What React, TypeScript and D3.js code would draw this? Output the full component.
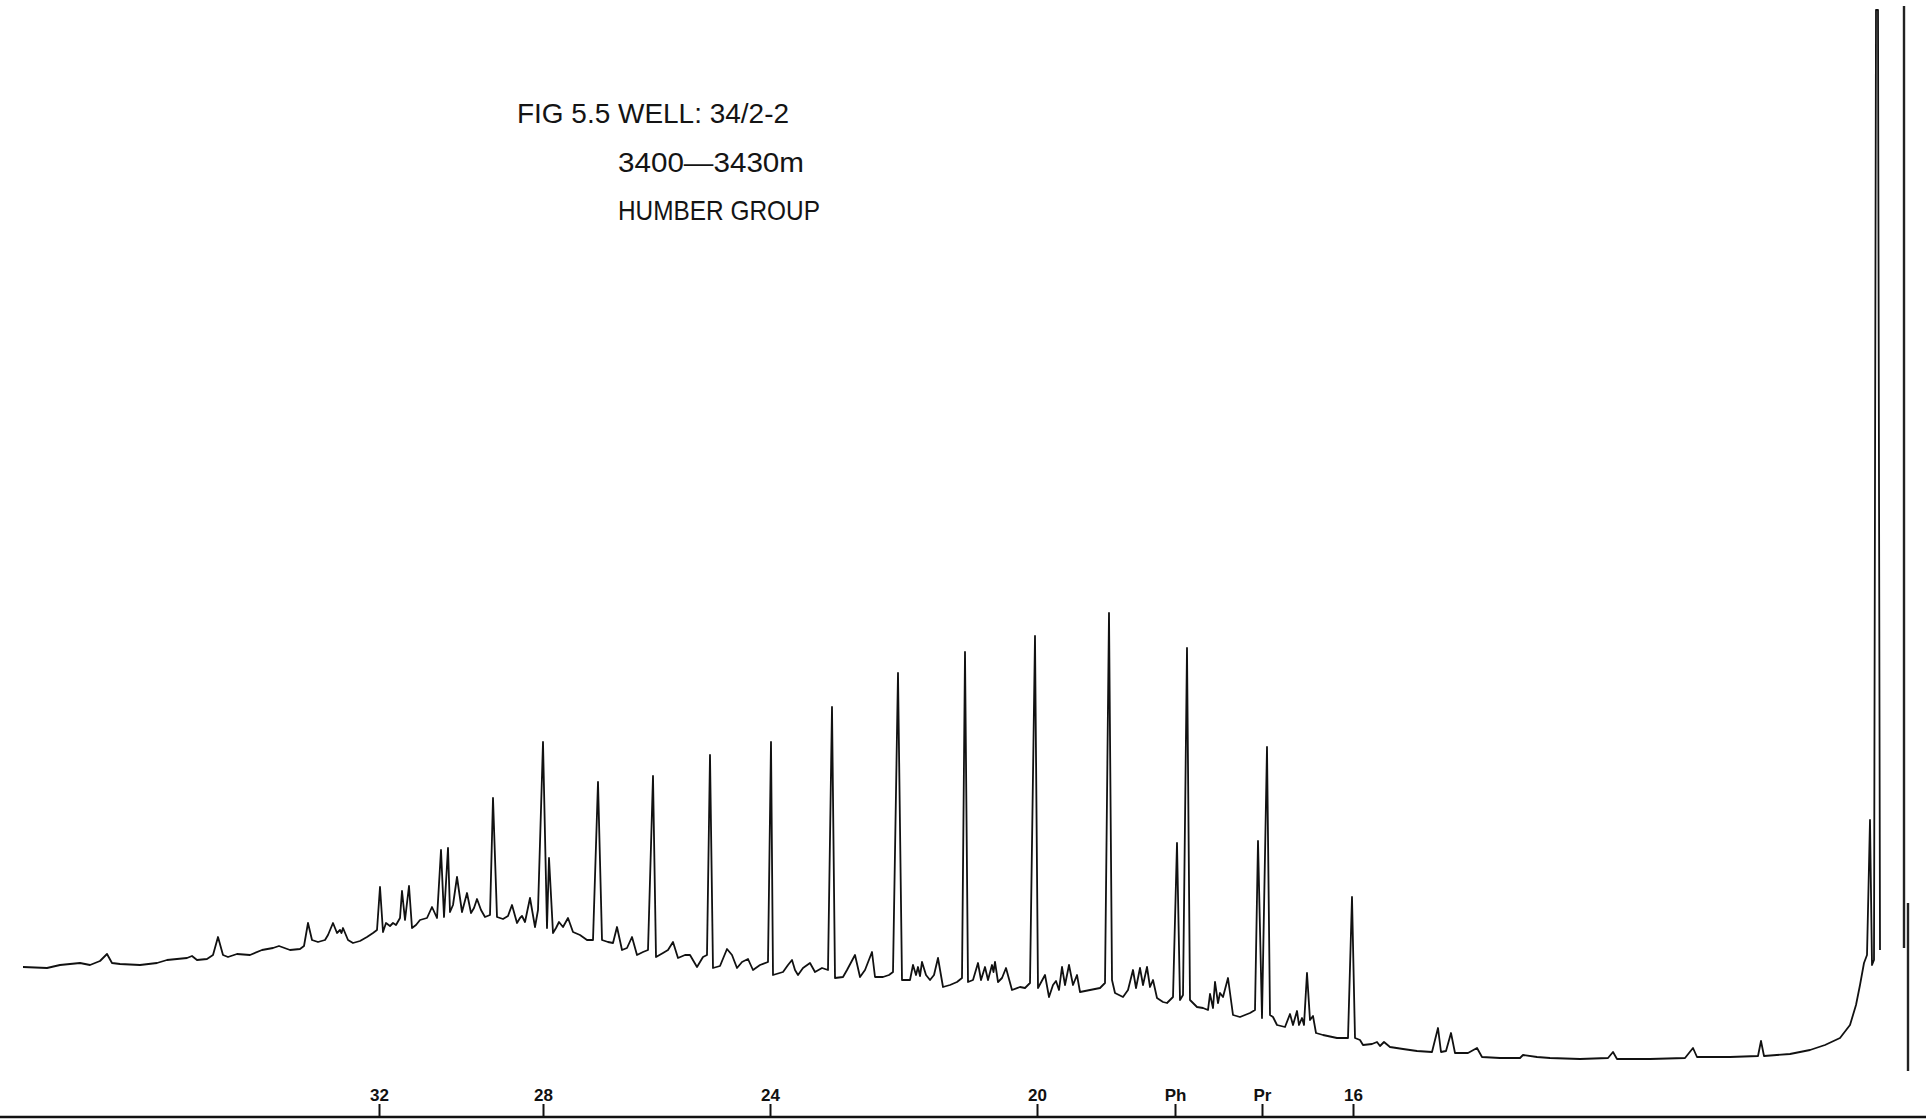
import React, { useRef, useEffect } from "react";
import * as d3 from "d3";

// retention time in seconds (solvent at the right), response in chart units
const titleLines = ["FIG 5.5 WELL: 34/2-2", "3400\u20143430m", "HUMBER GROUP"];

const tickTimes = [3066, 2738, 2284, 1750, 1474, 1300, 1118];
const tickLabels = ["32", "28", "24", "20", "Ph", "Pr", "16"];

// n-alkane apexes [t, r]  (C16 ... C32)
const nAlkanes: [number, number][] = [
  [1120, 22.0], [1290, 37.0], [1450, 46.9], [1606, 50.4], [1754, 48.1],
  [1894, 46.5], [2028, 44.4], [2160, 41.0], [2282, 37.5], [2404, 36.2],
  [2518, 34.1], [2628, 33.5], [2738, 37.5], [2838, 31.9], [3064, 23.0],
];

// pristane, phytane
const isoprenoids: [number, number][] = [
  [1308, 27.6], [1470, 27.4],
];

const minorPeaks: [number, number][] = [
  [3610, 16.3], [3440, 16.1], [3388, 18.0], [3266, 17.1], [3208, 19.4],
  [3158, 19.4], [3144, 18.7], [3138, 18.9], [3052, 19.4], [3038, 19.4],
  [3020, 22.6], [3006, 23.1], [2960, 21.0], [2942, 26.7], [2928, 26.9],
  [2910, 24.0], [2890, 22.4], [2870, 21.8], [2800, 21.2], [2780, 20.1],
  [2764, 21.9], [2726, 25.9], [2706, 19.5], [2688, 19.9], [2590, 19.0],
  [2560, 18.0], [2478, 17.5], [2370, 16.8], [2328, 15.8], [2240, 15.7],
  [2204, 15.4], [2114, 16.2], [2080, 16.5], [1998, 15.2], [1988, 15.0],
  [1980, 15.5], [1948, 15.9], [1868, 15.4], [1854, 15.0], [1840, 15.2],
  [1834, 15.5], [1812, 14.9], [1734, 14.2], [1712, 13.6], [1700, 15.0],
  [1686, 15.2], [1670, 14.2], [1558, 14.7], [1544, 14.9], [1530, 15.0],
  [1518, 13.7], [1404, 12.3], [1394, 13.5], [1384, 12.4], [1368, 13.9],
  [1244, 10.3], [1230, 10.6], [1220, 9.9], [1210, 14.4], [1198, 10.1],
  [1070, 7.5], [1056, 7.5], [948, 8.9], [922, 8.4], [870, 6.9],
  [778, 6.2], [598, 6.5], [438, 6.9], [302, 7.6], [84, 29.7],
];

const valleys: [number, number][] = [
  [3778, 15.0], [3730, 14.9], [3704, 15.2], [3664, 15.4], [3644, 15.2],
  [3624, 15.6], [3600, 15.4], [3584, 15.3], [3544, 15.2], [3510, 15.4],
  [3490, 15.7], [3450, 15.9], [3430, 15.7], [3410, 15.8], [3398, 16.2],
  [3378, 16.2], [3368, 16.0], [3350, 16.3], [3324, 16.2], [3300, 16.7],
  [3278, 16.9], [3244, 16.7], [3224, 16.8], [3216, 17.1], [3200, 17.7],
  [3188, 17.5], [3174, 17.7], [3168, 18.2], [3150, 18.4], [3141, 18.4],
  [3128, 17.7], [3118, 17.4], [3104, 17.6], [3090, 18.0], [3078, 18.4],
  [3070, 18.7], [3058, 18.5], [3044, 19.1], [3032, 19.2], [3024, 19.9],
  [3014, 19.7], [3000, 18.9], [2992, 19.2], [2984, 19.7], [2970, 19.9],
  [2950, 19.9], [2936, 20.0], [2924, 20.5], [2918, 21.2], [2900, 20.5],
  [2882, 20.4], [2876, 20.9], [2862, 20.7], [2854, 20.0], [2844, 20.2],
  [2830, 20.0], [2818, 19.8], [2808, 20.1], [2790, 19.4], [2784, 19.9],
  [2774, 19.5], [2754, 19.0], [2748, 20.7], [2730, 18.9], [2718, 18.4],
  [2712, 18.9], [2698, 19.0], [2678, 18.5], [2664, 18.2], [2650, 17.7],
  [2638, 17.7], [2620, 17.7], [2608, 17.5], [2598, 17.4], [2580, 16.7],
  [2570, 16.9], [2550, 16.2], [2538, 16.5], [2528, 16.7], [2512, 16.0],
  [2498, 16.4], [2488, 16.7], [2468, 15.9], [2454, 16.2], [2444, 16.2],
  [2430, 15.0], [2418, 16.0], [2410, 16.2], [2398, 14.9], [2384, 15.1],
  [2360, 16.2], [2350, 14.9], [2340, 15.5], [2318, 14.7], [2304, 15.2],
  [2288, 15.5], [2278, 14.2], [2258, 14.5], [2248, 15.2], [2234, 14.7],
  [2228, 14.2], [2218, 14.9], [2194, 14.5], [2180, 14.9], [2168, 14.7],
  [2154, 13.9], [2138, 14.0], [2130, 14.7], [2104, 14.0], [2094, 14.7],
  [2074, 14.0], [2058, 14.0], [2046, 14.2], [2038, 14.5], [2020, 13.7],
  [2004, 13.7], [1992, 14.2], [1984, 14.1], [1972, 14.2], [1964, 13.7],
  [1956, 14.2], [1938, 13.0], [1924, 13.2], [1910, 13.5], [1900, 13.9],
  [1888, 13.5], [1878, 13.7], [1862, 13.7], [1848, 13.7], [1837, 14.5],
  [1828, 13.5], [1820, 13.9], [1800, 12.7], [1784, 13.0], [1774, 12.9],
  [1764, 13.4], [1748, 12.9], [1726, 12.0], [1718, 13.2], [1706, 12.7],
  [1694, 13.2], [1678, 13.2], [1664, 12.5], [1644, 12.7], [1624, 12.9],
  [1614, 13.4], [1600, 13.7], [1594, 12.4], [1578, 12.0], [1568, 12.7],
  [1552, 12.9], [1538, 13.2], [1524, 13.0], [1510, 11.9], [1498, 11.5],
  [1490, 11.4], [1478, 12.0], [1464, 11.7], [1458, 12.2], [1444, 11.7],
  [1430, 11.0], [1418, 10.9], [1408, 10.7], [1398, 10.9], [1388, 11.4],
  [1378, 12.0], [1358, 10.2], [1344, 10.0], [1324, 10.4], [1314, 10.7],
  [1300, 9.9], [1284, 10.2], [1278, 10.0], [1270, 9.2], [1254, 9.0],
  [1238, 9.2], [1226, 9.2], [1216, 9.2], [1204, 9.7], [1192, 8.4],
  [1178, 8.2], [1150, 7.9], [1128, 7.9], [1114, 7.9], [1104, 7.7],
  [1098, 7.2], [1080, 7.3], [1064, 7.1], [1044, 7.0], [1018, 6.8],
  [990, 6.6], [960, 6.5], [942, 6.5], [932, 6.6], [914, 6.4],
  [888, 6.4], [860, 6.0], [824, 5.9], [784, 5.9], [750, 6.0],
  [724, 5.9], [664, 5.8], [608, 5.9], [590, 5.8], [524, 5.8],
  [454, 5.9], [430, 6.0], [364, 6.0], [308, 6.1], [296, 6.1],
  [244, 6.3], [204, 6.7], [174, 7.2], [144, 7.9], [124, 9.2],
  [112, 11.2], [104, 13.2], [96, 15.4], [90, 16.2], [80, 15.2],
  [76, 15.7], [64, 16.7],
];

// solvent peak, off scale
const solventPeak: [number, number][] = [
  [72, 110.7], [68, 110.7],
];

// pen return strokes at the start of the run
const penReturnA: [number, number][] = [[16, 111.1], [16, 16.9]];
const penReturnB: [number, number][] = [[8, 21.4], [8, 4.6]];

export default function App() {
  const ref = useRef<SVGSVGElement>(null);

  useEffect(() => {
    const svg = d3.select(ref.current);
    svg.selectAll("*").remove();

    const width = 1926;
    const height = 1120;
    const axisY = 1117;

    const x = d3.scaleLinear().domain([0, 3824]).range([1912, 0]);
    const y = d3.scaleLinear().domain([0, 111.7]).range([axisY, 0]);

    svg.append("rect").attr("width", width).attr("height", height).attr("fill", "#fff");

    // title block
    const title = svg
      .append("g")
      .style("font-family", "'Liberation Sans', Arial, sans-serif")
      .style("font-size", "28px")
      .attr("fill", "#141414");
    const titlePos = [
      { x: 517, y: 123, len: 272 },
      { x: 618, y: 172, len: 186 },
      { x: 618, y: 220, len: 202 },
    ];
    titleLines.forEach((t, i) => {
      title
        .append("text")
        .attr("x", titlePos[i].x)
        .attr("y", titlePos[i].y)
        .attr("textLength", titlePos[i].len)
        .attr("lengthAdjust", "spacingAndGlyphs")
        .text(t);
    });

    const trace = [...valleys, ...minorPeaks, ...nAlkanes, ...isoprenoids, ...solventPeak].sort(
      (a, b) => b[0] - a[0]
    );

    const line = d3
      .line<[number, number]>()
      .x((d) => x(d[0]))
      .y((d) => y(d[1]));

    svg
      .append("path")
      .datum(trace)
      .attr("d", line)
      .attr("fill", "none")
      .attr("stroke", "#111")
      .attr("stroke-width", 1.8)
      .attr("stroke-linejoin", "round");

    [penReturnA, penReturnB].forEach((seg) => {
      svg
        .append("path")
        .datum(seg)
        .attr("d", line)
        .attr("fill", "none")
        .attr("stroke", "#222")
        .attr("stroke-width", 2.4);
    });

    // baseline axis with carbon-number markers
    svg
      .append("line")
      .attr("x1", 0)
      .attr("x2", width)
      .attr("y1", axisY)
      .attr("y2", axisY)
      .attr("stroke", "#111")
      .attr("stroke-width", 2.5);

    const axis = svg
      .append("g")
      .attr("transform", `translate(0,${axisY})`)
      .call(
        d3
          .axisTop(x)
          .tickValues(tickTimes)
          .tickFormat((d, i) => tickLabels[i])
          .tickSize(13)
          .tickSizeOuter(0)
          .tickPadding(3)
      );
    axis.select(".domain").remove();
    axis.selectAll(".tick line").attr("stroke", "#111").attr("stroke-width", 2);
    axis
      .selectAll(".tick text")
      .attr("fill", "#111")
      .style("font-family", "'Liberation Sans', Arial, sans-serif")
      .style("font-size", "17px")
      .style("font-weight", "bold");
  }, []);

  return (
    <svg
      ref={ref}
      width={1926}
      height={1120}
      style={{ position: "absolute", left: 0, top: 0, display: "block" }}
    />
  );
}
